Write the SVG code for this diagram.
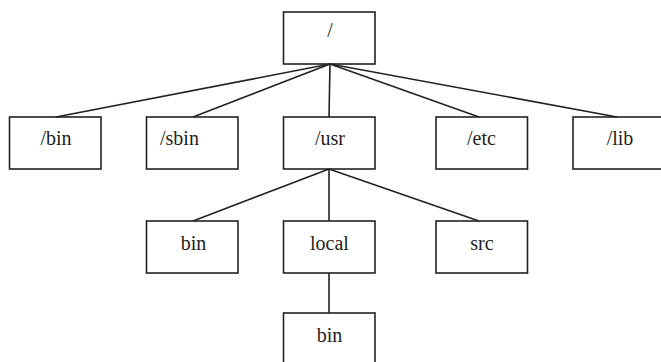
<svg xmlns="http://www.w3.org/2000/svg" width="661" height="362" viewBox="0 0 661 362">
<style>
.box{fill:none;stroke:#222;stroke-width:1.6}
.lbl{font-size:20px;fill:#1e1e1e;text-anchor:middle}
.conn line{stroke:#222;stroke-width:1.6}
</style>
<rect width="661" height="362" fill="#fff"/>
<g id="connectors" class="conn">
<line x1="330" y1="64" x2="56" y2="117"/>
<line x1="330" y1="64" x2="193" y2="117"/>
<line x1="330" y1="64" x2="329" y2="117"/>
<line x1="330" y1="64" x2="479" y2="117"/>
<line x1="330" y1="64" x2="617" y2="117"/>
<line x1="329" y1="169" x2="193" y2="221"/>
<line x1="329" y1="169" x2="329" y2="221"/>
<line x1="329" y1="169" x2="479" y2="221"/>
<line x1="329" y1="273" x2="329" y2="313"/>
</g>
<g font-family="'Liberation Serif', 'DejaVu Serif', serif">
<g id="root"><rect class="box" x="283.5" y="12" width="91.5" height="52"/><text class="lbl" x="330" y="37">/</text></g>
<g id="bin"><rect class="box" x="9.5" y="117" width="91.5" height="52"/><text class="lbl" x="56" y="145">/bin</text></g>
<g id="sbin"><rect class="box" x="146.5" y="117" width="91.5" height="52"/><text class="lbl" x="160" y="145" style="text-anchor:start">/sbin</text></g>
<g id="usr"><rect class="box" x="283.5" y="117" width="91.5" height="52"/><text class="lbl" x="330" y="145">/usr</text></g>
<g id="etc"><rect class="box" x="436" y="117" width="91.5" height="52"/><text class="lbl" x="481.5" y="145">/etc</text></g>
<g id="lib"><rect class="box" x="573" y="117" width="91.5" height="52"/><text class="lbl" x="620" y="145">/lib</text></g>
<g id="usr-bin"><rect class="box" x="146.5" y="221" width="91.5" height="52"/><text class="lbl" x="193.5" y="250">bin</text></g>
<g id="usr-local"><rect class="box" x="283.5" y="221" width="91.5" height="52"/><text class="lbl" x="329.5" y="250">local</text></g>
<g id="usr-src"><rect class="box" x="436" y="221" width="91.5" height="52"/><text class="lbl" x="482" y="250">src</text></g>
<g id="local-bin"><rect class="box" x="283.5" y="313" width="91.5" height="55"/><text class="lbl" x="329.5" y="342">bin</text></g>
</g>
</svg>
